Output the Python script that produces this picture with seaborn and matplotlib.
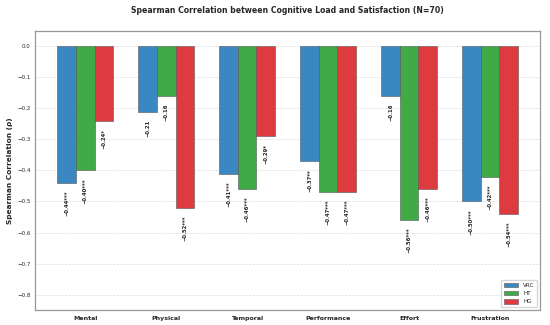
import pandas as pd
import numpy as np
import matplotlib
matplotlib.use("Agg")
import matplotlib.pyplot as plt
import seaborn as sns

categories = ['Mental', 'Physical', 'Temporal', 'Performance', 'Effort', 'Frustration']
groups = ['VRC', 'HT', 'HG']
vrc = [-0.44, -0.21, -0.41, -0.37, -0.16, -0.50]
ht = [-0.40, -0.16, -0.46, -0.47, -0.56, -0.42]
hg = [-0.24, -0.52, -0.29, -0.47, -0.46, -0.54]
vrc_sig = ['***', '', '***', '**', '', '***']
ht_sig = ['***', '', '***', '***', '***', '***']
hg_sig = ['*', '***', '*', '***', '***', '***']

colors = ['#3a87c1', '#40ab46', '#dd3b3f']

# long table for seaborn
rows = []
for g, vals, sig in zip(groups, [vrc, ht, hg], [vrc_sig, ht_sig, hg_sig]):
    for c, v, s in zip(categories, vals, sig):
        rows.append({'Dimension': c, 'Group': g, 'rho': v, 'sig': s})
df = pd.DataFrame(rows)

sns.set_style('white')
fig, ax = plt.subplots(figsize=(5.5, 3.25), dpi=100)
fig.subplots_adjust(left=0.064, right=0.982, top=0.905, bottom=0.046)

sns.barplot(data=df, x='Dimension', y='rho', hue='Group', order=categories,
            hue_order=groups, palette=colors, width=0.69, gap=0, saturation=1,
            edgecolor='#555555', linewidth=0.4, ax=ax, errorbar=None)

# value labels under each bar
for g, cont in zip(groups, ax.containers):
    sub = df[df['Group'] == g].set_index('Dimension').loc[categories]
    for bar, v, s in zip(cont, sub['rho'], sub['sig']):
        x = bar.get_x() + bar.get_width() / 2
        ax.text(x, v - 0.025, f'\u2212{abs(v):.2f}{s}', rotation=90,
                ha='center', va='top', fontsize=3.8, fontweight='bold')

ax.set_xlim(-0.62, 5.62)
ax.set_ylim(-0.85, 0.05)
ticks = np.arange(0, -0.81, -0.1)
ax.set_yticks(ticks)
ax.set_yticklabels([f'{t:.1f}'.replace('-', '\u2212') if abs(t) > 1e-9 else '0.0'
                    for t in ticks])
ax.grid(axis='y', linestyle='--', color='#dddddd', linewidth=0.5)
ax.set_axisbelow(True)

ax.set_title('Spearman Correlation between Cognitive Load and Satisfaction (N=70)',
             fontsize=5.6, fontweight='bold', pad=13)
ax.set_xlabel('')
ax.set_ylabel('Spearman Correlation (\u03c1)', fontsize=5.3, fontweight='bold', labelpad=3)
ax.tick_params(axis='y', labelsize=4, length=2, width=0.4, pad=1.5)
ax.tick_params(axis='x', labelsize=4.5, length=2, width=0.4, pad=2)
for lab in ax.get_xticklabels():
    lab.set_fontweight('bold')
for sp in ax.spines.values():
    sp.set_color('#999999')
    sp.set_linewidth(0.9)

ax.legend(loc='lower right', fontsize=4.1, frameon=True, title=None,
          handlelength=2.6, handleheight=0.8, borderpad=0.5, labelspacing=0.55,
          handletextpad=0.8)

fig.savefig('out.png', dpi=100)
